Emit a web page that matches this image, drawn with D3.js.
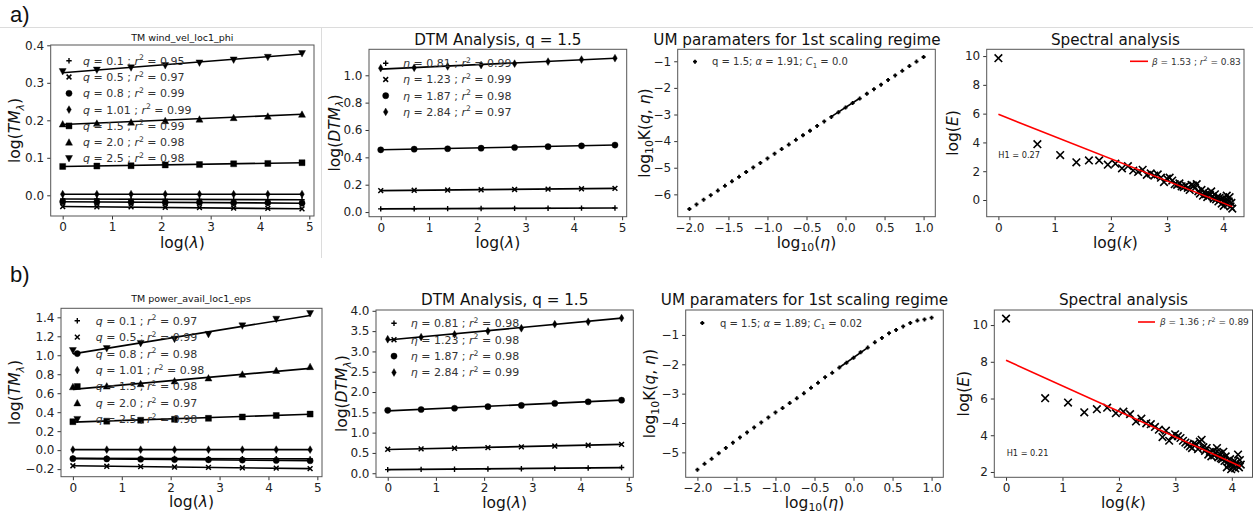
<!DOCTYPE html>
<html><head><meta charset="utf-8">
<script src="https://cdn.jsdelivr.net/npm/d3@7"></script>
<style>body{margin:0;background:#fff} svg{display:block;font-family:"DejaVu Sans",sans-serif}</style>
</head><body><svg id="c" width="1253" height="518"></svg>
<script>
// ---------------- DATA ----------------
const lambdaX = [0, 0.693, 1.386, 2.079, 2.773, 3.466, 4.159, 4.852];
const qLabels = ["0.1", "0.5", "0.8", "1.01", "1.5", "2.0", "2.5"];
const qMarkers = ["plus", "x", "circle", "thin_diamond", "square", "tri_up", "tri_down"];
const tmA_r2 = ["0.95", "0.97", "0.99", "0.99", "0.99", "0.98", "0.98"];
const tmB_r2 = ["0.97", "0.99", "0.98", "0.98", "0.98", "0.97", "0.98"];
const tmA_values = [
  [-0.010, -0.010, -0.011, -0.011, -0.011, -0.012, -0.012, -0.012],
  [-0.030, -0.031, -0.031, -0.032, -0.033, -0.034, -0.035, -0.036],
  [-0.017, -0.018, -0.018, -0.019, -0.019, -0.020, -0.020, -0.021],
  [0.003, 0.003, 0.003, 0.003, 0.003, 0.003, 0.003, 0.003],
  [0.077, 0.078, 0.079, 0.081, 0.082, 0.084, 0.085, 0.087],
  [0.190, 0.192, 0.195, 0.199, 0.203, 0.207, 0.211, 0.216],
  [0.330, 0.334, 0.340, 0.346, 0.353, 0.361, 0.368, 0.378]
];
const tmA_fit = [[-0.010, -0.012], [-0.030, -0.036], [-0.017, -0.021], [0.003, 0.003], [0.077, 0.087], [0.189, 0.216], [0.327, 0.377]];
const tmB_values = [
  [-0.085, -0.086, -0.087, -0.088, -0.089, -0.090, -0.091, -0.092],
  [-0.165, -0.170, -0.174, -0.178, -0.182, -0.186, -0.190, -0.195],
  [-0.090, -0.093, -0.096, -0.099, -0.102, -0.105, -0.108, -0.112],
  [0.005, 0.005, 0.005, 0.005, 0.005, 0.005, 0.005, 0.005],
  [0.300, 0.305, 0.315, 0.325, 0.335, 0.350, 0.365, 0.380],
  [0.668, 0.675, 0.700, 0.730, 0.760, 0.800, 0.840, 0.880],
  [1.050, 1.070, 1.125, 1.170, 1.220, 1.310, 1.380, 1.440]
];
const tmB_fit = [[-0.085, -0.092], [-0.165, -0.195], [-0.090, -0.112], [0.005, 0.005], [0.295, 0.378], [0.640, 0.862], [1.015, 1.420]];

const etaLabels = ["0.81", "1.23", "1.87", "2.84"];
const etaMarkers = ["plus", "x", "circle", "thin_diamond"];
const dtmA_r2 = ["0.99", "0.99", "0.98", "0.97"];
const dtmB_r2 = ["0.98", "0.98", "0.98", "0.99"];
const dtmA_values = [
  [0.023, 0.024, 0.025, 0.026, 0.027, 0.028, 0.029, 0.030],
  [0.157, 0.159, 0.161, 0.163, 0.165, 0.168, 0.170, 0.173],
  [0.455, 0.460, 0.463, 0.467, 0.472, 0.478, 0.484, 0.490],
  [1.052, 1.055, 1.065, 1.075, 1.085, 1.100, 1.115, 1.125]
];
const dtmA_fit = [[0.023, 0.030], [0.157, 0.173], [0.455, 0.490], [1.045, 1.125]];
const dtmB_values = [
  [0.090, 0.095, 0.100, 0.105, 0.110, 0.120, 0.130, 0.140],
  [0.590, 0.600, 0.615, 0.630, 0.650, 0.670, 0.690, 0.710],
  [1.550, 1.570, 1.600, 1.640, 1.670, 1.720, 1.760, 1.800],
  [3.300, 3.350, 3.420, 3.500, 3.570, 3.670, 3.730, 3.820]
];
const dtmB_fit = [[0.088, 0.138], [0.585, 0.710], [1.535, 1.800], [3.280, 3.820]];

const umEta = [-2.000, -1.909, -1.818, -1.727, -1.636, -1.545, -1.455, -1.364, -1.273, -1.182, -1.091, -1.000,
  -0.909, -0.818, -0.727, -0.636, -0.545, -0.455, -0.364, -0.273, -0.182, -0.091, 0.000, 0.091, 0.182, 0.273,
  0.364, 0.455, 0.545, 0.636, 0.727, 0.818, 0.909, 1.000];
const umA_K = [-6.55, -6.38, -6.20, -6.03, -5.86, -5.68, -5.51, -5.34, -5.16, -4.99, -4.82, -4.65, -4.47, -4.30,
  -4.13, -3.95, -3.78, -3.61, -3.43, -3.26, -3.09, -2.92, -2.74, -2.57, -2.40, -2.22, -2.05, -1.88, -1.70,
  -1.53, -1.36, -1.18, -1.01, -0.84];
const umB_K = [-5.59, -5.39, -5.22, -5.03, -4.85, -4.67, -4.49, -4.32, -4.15, -3.98, -3.81, -3.64, -3.49, -3.32,
  -3.16, -2.99, -2.80, -2.63, -2.44, -2.29, -2.11, -1.95, -1.78, -1.59, -1.43, -1.25, -1.10, -0.94, -0.83,
  -0.71, -0.59, -0.51, -0.47, -0.41];
const umFitX = [-0.182, 0.182];
const umA_fit = [-3.08, -2.39];
const umB_fit = [-2.11, -1.43];

const specK = [1, 2, 3, 4, 5, 6, 7, 8, 9, 10, 11, 12, 13, 14, 15, 16, 17, 18, 19, 20, 21, 22, 23, 24, 25, 26, 27, 28,
  29, 30, 31, 32, 33, 34, 35, 36, 37, 38, 39, 40, 41, 42, 43, 44, 45, 46, 47, 48, 49, 50, 51, 52, 53, 54, 55, 56,
  57, 58, 59, 60, 61, 62, 63, 64];
const specA_E = [9.85, 3.88, 3.12, 2.62, 2.75, 2.75, 2.45, 2.52, 2.20, 2.35, 2.05, 1.95, 2.10, 1.75, 1.85, 1.70,
  1.78, 1.55, 1.25, 1.48, 1.55, 1.35, 1.10, 1.05, 1.15, 0.95, 0.90, 1.00, 0.85, 0.70, 1.05, 1.00, 0.85, 1.10,
  0.60, 0.45, 0.70, 0.30, 0.55, 0.40, 0.20, 0.45, 0.35, 0.60, 0.25, 0.10, 0.40, 0.05, 0.20, -0.10, 0.15, 0.05,
  -0.25, 0.10, -0.40, 0.00, -0.15, 0.30, -0.30, -0.10, 0.20, -0.45, -0.20, -0.60];
const specB_E = [10.35, 6.02, 5.78, 5.25, 5.42, 5.50, 5.20, 5.28, 5.15, 4.75, 4.90, 4.65, 4.60, 4.45, 4.30, 3.90,
  4.25, 3.70, 3.95, 4.05, 3.95, 3.85, 3.70, 3.60, 3.50, 3.40, 3.30, 3.55, 3.50, 3.25, 3.65, 3.75, 3.35, 3.15,
  3.30, 2.95, 3.10, 2.85, 3.15, 2.90, 3.05, 3.30, 2.80, 3.00, 2.75, 2.70, 3.10, 2.60, 2.85, 2.25, 2.55, 2.40,
  2.70, 2.15, 2.45, 2.30, 2.60, 2.20, 2.50, 2.35, 2.95, 2.25, 2.65, 2.40];
const specFitX = [0, 4.159];
const specA_fit = [5.95, -0.46];
const specB_fit = [8.08, 2.30];

// ---------------- HELPERS ----------------
const svg = d3.select('#c');

function rich(sel, markup, fs) {
  const re = /\{(i|sup|sub|isub):([^}]*)\}|([^{]+)/g;
  let m, shift = 0;
  while ((m = re.exec(markup)) !== null) {
    const kind = m[1] || 'n';
    const txt = m[1] ? m[2] : m[3];
    const ts = sel.append('tspan').text(txt);
    let target = 0;
    if (kind === 'sup') target = -fs * 0.4;
    if (kind === 'sub' || kind === 'isub') target = fs * 0.25;
    if (kind === 'sup' || kind === 'sub' || kind === 'isub') ts.attr('font-size', fs * 0.7);
    if (target !== shift) { ts.attr('dy', target - shift); shift = target; }
    if (kind === 'i' || kind === 'isub') ts.attr('font-style', 'italic');
  }
}

function markerPath(type) {
  switch (type) {
    case 'plus': return 'M-2.7,0H2.7M0,-2.7V2.7';
    case 'x': return 'M-2.4,-2.4L2.4,2.4M-2.4,2.4L2.4,-2.4';
    case 'bigx': return 'M-3.8,-3.8L3.8,3.8M-3.8,3.8L3.8,-3.8';
    case 'umplus': return 'M-2,0H2M0,-2V2';
    case 'circle': return d3.symbol(d3.symbolCircle, Math.PI * 3.1 * 3.1)();
    case 'square': return 'M-3,-3H3V3H-3Z';
    case 'tri_up': return 'M0,-3.5L3.5,3L-3.5,3Z';
    case 'tri_down': return 'M0,3.5L3.5,-3L-3.5,-3Z';
    case 'thin_diamond': return 'M0,-3.9L2.3,0L0,3.9L-2.3,0Z';
  }
}
const strokedMarkers = { plus: 1.4, x: 1.5, bigx: 1.6, umplus: 1.8 };
function styleMarker(sel, type) {
  if (strokedMarkers[type]) sel.attr('fill', 'none').attr('stroke', '#000').attr('stroke-width', strokedMarkers[type]);
  else sel.attr('fill', '#000').attr('stroke', '#000').attr('stroke-width', 0.4);
}

function panel(c) {
  const g = svg.append('g');
  const x = d3.scaleLinear().domain(c.xd).range([c.l, c.r]);
  const y = d3.scaleLinear().domain(c.yd).range([c.b, c.t]);
  const xa = d3.axisBottom(x).tickValues(c.xt).tickFormat(d3.format(c.xf)).tickSizeOuter(0).tickSize(3.5).tickPadding(3);
  const ya = d3.axisLeft(y).tickValues(c.yt).tickFormat(d3.format(c.yf)).tickSizeOuter(0).tickSize(3.5).tickPadding(3);
  const gx = g.append('g').attr('transform', `translate(0,${c.b})`).call(xa);
  const gy = g.append('g').attr('transform', `translate(${c.l},0)`).call(ya);
  [gx, gy].forEach(a => {
    a.select('.domain').remove();
    a.selectAll('line').attr('stroke', '#333');
    a.selectAll('text').attr('font-size', 12).attr('fill', '#222').attr('font-family', '"DejaVu Sans", sans-serif');
  });
  const clipId = 'clip' + Math.round(c.l) + '_' + Math.round(c.t);
  svg.append('clipPath').attr('id', clipId).append('rect')
    .attr('x', c.l).attr('y', c.t).attr('width', c.r - c.l).attr('height', c.b - c.t);
  const data = g.append('g').attr('clip-path', `url(#${clipId})`);
  const over = g.append('g');
  g.append('rect').attr('x', c.l).attr('y', c.t).attr('width', c.r - c.l).attr('height', c.b - c.t)
    .attr('fill', 'none').attr('stroke', '#555').attr('stroke-width', 1);
  const tt = g.append('text').attr('x', c.titleX).attr('y', c.titleY).attr('text-anchor', 'middle')
    .attr('font-size', c.titleFs).attr('fill', '#111');
  rich(tt, c.title, c.titleFs);
  const xl = g.append('text').attr('x', (c.l + c.r) / 2).attr('y', c.xlY).attr('text-anchor', 'middle')
    .attr('font-size', 15.5).attr('fill', '#111');
  rich(xl, c.xlabel, 15.5);
  const yl = g.append('text').attr('transform', `translate(${c.ylX},${(c.t + c.b) / 2}) rotate(-90)`)
    .attr('text-anchor', 'middle').attr('font-size', 15.5).attr('fill', '#111');
  rich(yl, c.ylabel, 15.5);
  return { x, y, g, data, over };
}

function drawSeries(p, xs, ys, type) {
  const s = p.data.append('g');
  s.selectAll('path').data(xs.map((v, i) => [v, ys[i]])).join('path')
    .attr('d', markerPath(type))
    .attr('transform', d => `translate(${p.x(d[0])},${p.y(d[1])})`)
    .call(sel => styleMarker(sel, type));
}
function drawLine(p, xs, ys, color, w) {
  p.data.append('path').datum(xs.map((v, i) => [v, ys[i]]))
    .attr('d', d3.line().x(d => p.x(d[0])).y(d => p.y(d[1])))
    .attr('fill', 'none').attr('stroke', color).attr('stroke-width', w);
}
function legendMarkerRow(p, mx, tx, yc, type, markup, fs) {
  const mk = p.over.append('path').attr('d', markerPath(type)).attr('transform', `translate(${mx},${yc})`);
  styleMarker(mk, type);
  const t = p.over.append('text').attr('x', tx).attr('y', yc + fs * 0.36).attr('font-size', fs).attr('fill', '#333');
  rich(t, markup, fs);
}

// ---------------- DECORATION ----------------
svg.append('line').attr('x1', 0).attr('x2', 1253).attr('y1', 27.5).attr('y2', 27.5).attr('stroke', '#dcdcdc');
svg.append('line').attr('x1', 321.5).attr('x2', 321.5).attr('y1', 27.5).attr('y2', 258).attr('stroke', '#dcdcdc');
svg.append('text').attr('x', 10).attr('y', 22).attr('font-family', '"Liberation Sans", Arial, sans-serif')
  .attr('font-size', 22).attr('fill', '#111').text('a)');
svg.append('text').attr('x', 10).attr('y', 282).attr('font-family', '"Liberation Sans", Arial, sans-serif')
  .attr('font-size', 22).attr('fill', '#111').text('b)');

// ---------------- TM panels ----------------
function tmPanel(c, values, fits, r2, lg) {
  const p = panel(Object.assign({ xd: [-0.243, 5.095], xt: [0, 1, 2, 3, 4, 5], xf: 'd', yf: '.1f', titleFs: 9.5,
    xlabel: 'log({i:λ})', ylabel: 'log({i:TM}{isub:λ})' }, c));
  values.forEach((v, i) => drawSeries(p, lambdaX, v, qMarkers[i]));
  fits.forEach(f => drawLine(p, [lambdaX[0], lambdaX[lambdaX.length - 1]], f, '#000', 1.6));
  qLabels.forEach((q, i) => legendMarkerRow(p, lg.mx, lg.tx, lg.y0 + i * lg.dy, qMarkers[i],
    `{i:q} = ${q} ; {i:r}{sup:2} = ${r2[i]}`, 11));
}
tmPanel({ l: 50.7, r: 314, t: 45, b: 216, yd: [-0.0552, 0.4008], yt: [0, 0.1, 0.2, 0.3, 0.4],
  title: 'TM wind_vel_loc1_phi', titleX: 182.3, titleY: 40.5, xlY: 247.5, ylX: 19.7 },
  tmA_values, tmA_fit, tmA_r2, { mx: 69, tx: 83, y0: 60.7, dy: 16.3 });
tmPanel({ l: 61, r: 322, t: 308.3, b: 476.7, yd: [-0.28, 1.495], yt: [-0.2, 0, 0.2, 0.4, 0.6, 0.8, 1.0, 1.2, 1.4],
  title: 'TM power_avail_loc1_eps', titleX: 191, titleY: 301.5, xlY: 507, ylX: 19.7 },
  tmB_values, tmB_fit, tmB_r2, { mx: 77.3, tx: 95.7, y0: 320.7, dy: 16.45 });

// ---------------- DTM panels ----------------
function dtmPanel(c, values, fits, r2, lg) {
  const p = panel(Object.assign({ xd: [-0.243, 5.095], xt: [0, 1, 2, 3, 4, 5], xf: 'd', yf: '.1f', titleFs: 15.2,
    title: 'DTM Analysis, q = 1.5', xlabel: 'log({i:λ})', ylabel: 'log({i:DTM}{isub:λ})' }, c));
  values.forEach((v, i) => drawSeries(p, lambdaX, v, etaMarkers[i]));
  fits.forEach(f => drawLine(p, [lambdaX[0], lambdaX[lambdaX.length - 1]], f, '#000', 1.6));
  etaLabels.forEach((e, i) => legendMarkerRow(p, lg.mx, lg.tx, lg.y0 + i * lg.dy, etaMarkers[i],
    `{i:η} = ${e} ; {i:r}{sup:2} = ${r2[i]}`, 11));
}
dtmPanel({ l: 369, r: 626.7, t: 49.3, b: 216.7, yd: [-0.034, 1.19], yt: [0, 0.2, 0.4, 0.6, 0.8, 1.0],
  titleX: 497.8, titleY: 45, xlY: 247.5, ylX: 339.5 }, dtmA_values, dtmA_fit, dtmA_r2, { mx: 385.7, tx: 403, y0: 63.3, dy: 16.2 });
dtmPanel({ l: 376, r: 633.3, t: 310, b: 477.3, yd: [-0.1, 4.02], yt: [0, 0.5, 1.0, 1.5, 2.0, 2.5, 3.0, 3.5, 4.0],
  titleX: 504.7, titleY: 305, xlY: 507.5, ylX: 347 }, dtmB_values, dtmB_fit, dtmB_r2, { mx: 394, tx: 410.7, y0: 323.3, dy: 16.4 });

// ---------------- UM panels ----------------
function umPanel(c, K, fit, legendTxt, lg) {
  const p = panel(Object.assign({ xd: [-2.15, 1.15], xt: [-2, -1.5, -1, -0.5, 0, 0.5, 1], xf: '.1f', yf: 'd', titleFs: 15.2,
    title: 'UM paramaters for 1st scaling regime', xlabel: 'log{sub:10}({i:η})', ylabel: 'log{sub:10}K({i:q}, {i:η})' }, c));
  drawSeries(p, umEta, K, 'umplus');
  drawLine(p, umFitX, fit, '#000', 1.6);
  legendMarkerRow(p, lg.mx, lg.tx, lg.y, 'umplus', legendTxt, 10);
}
umPanel({ l: 677.7, r: 935.3, t: 49.3, b: 216.7, yd: [-6.84, -0.55], yt: [-6, -5, -4, -3, -2, -1],
  titleX: 797, titleY: 45, xlY: 247.5, ylX: 649.5 }, umA_K, umA_fit, 'q = 1.5; {i:α} = 1.91; {i:C}{sub:1} = 0.0', { mx: 695, tx: 712, y: 61.7 });
umPanel({ l: 685.7, r: 943.3, t: 310, b: 477.3, yd: [-5.85, -0.15], yt: [-5, -4, -3, -2, -1],
  titleX: 804.5, titleY: 305, xlY: 507.5, ylX: 655 }, umB_K, umB_fit, 'q = 1.5; {i:α} = 1.89; {i:C}{sub:1} = 0.02', { mx: 702.3, tx: 720, y: 323 });

// ---------------- Spectral panels ----------------
function specPanel(c, E, fit, legendTxt, h1, lg) {
  const p = panel(Object.assign({ xd: [-0.208, 4.367], xt: [0, 1, 2, 3, 4], xf: 'd', yf: 'd', titleFs: 15.2,
    title: 'Spectral analysis', xlabel: 'log({i:k})', ylabel: 'log({i:E})' }, c));
  drawSeries(p, specK.map(k => Math.log(k)), E, 'bigx');
  drawLine(p, specFitX, fit, '#ff0000', 1.6);
  p.over.append('line').attr('x1', lg.x1).attr('x2', lg.x2).attr('y1', lg.y).attr('y2', lg.y)
    .attr('stroke', '#ff0000').attr('stroke-width', 1.6);
  const t = p.over.append('text').attr('x', lg.tx).attr('y', lg.y + 3.2).attr('font-size', 9).attr('fill', '#333');
  rich(t, legendTxt, 9);
  p.over.append('text').attr('x', lg.hx).attr('y', lg.hy).attr('font-size', 8.2).attr('fill', '#222').text(h1);
}
specPanel({ l: 986.7, r: 1244, t: 49.3, b: 216.7, yd: [-1.16, 10.47], yt: [0, 2, 4, 6, 8, 10],
  titleX: 1115.4, titleY: 45, xlY: 247.5, ylX: 958 }, specA_E, specA_fit, '{i:β} = 1.53 ; {i:r}{sup:2} = 0.83', 'H1 = 0.27',
  { x1: 1130, x2: 1148, y: 61.3, tx: 1152, hx: 998.3, hy: 157.5 });
specPanel({ l: 994.3, r: 1252.5, t: 310, b: 477.3, yd: [1.71, 10.82], yt: [2, 4, 6, 8, 10],
  titleX: 1123.5, titleY: 305, xlY: 507.5, ylX: 968.5 }, specB_E, specB_fit, '{i:β} = 1.36 ; {i:r}{sup:2} = 0.89', 'H1 = 0.21',
  { x1: 1138, x2: 1155, y: 322, tx: 1160, hx: 1006.7, hy: 456 });
</script></body></html>
